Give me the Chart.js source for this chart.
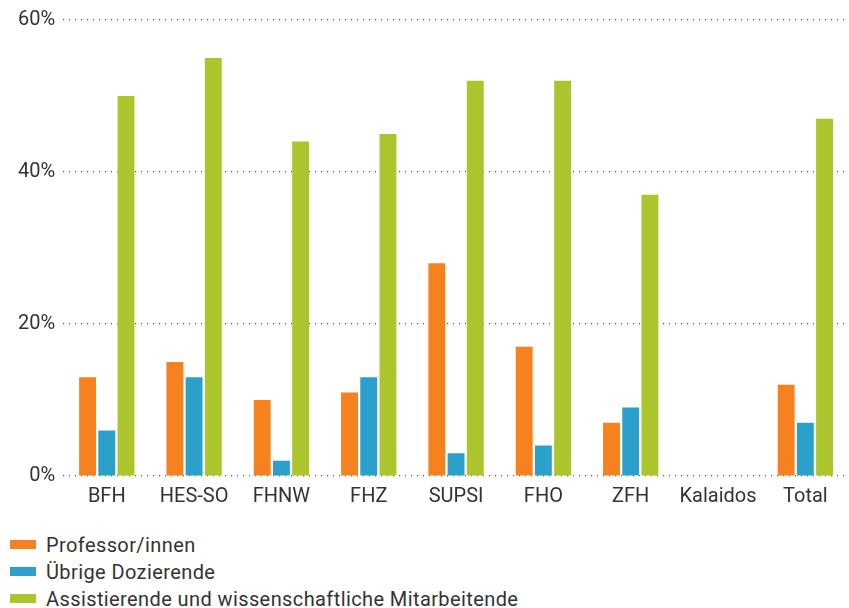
<!DOCTYPE html>
<html>
<head>
<meta charset="utf-8">
<script src="https://cdn.jsdelivr.net/npm/chart.js@4/dist/chart.umd.min.js"></script>
<style>
  html, body { margin: 0; padding: 0; background: #fff; }
  body { width: 849px; height: 608px; overflow: hidden; font-family: Roboto, sans-serif; }
  #wrap { position: relative; width: 849px; height: 518px; }
  #legend { margin: 13px 0 0 10px; }
  .item { display: flex; align-items: center; height: 27px; font-size: 20px; color: #333; letter-spacing: 0.4px; }
  .swatch { width: 26px; height: 9px; margin-right: 10px; }
</style>
</head>
<body>
<div id="wrap"><canvas id="chart"></canvas></div>
<div id="legend"></div>
<script>
const categories = ['BFH', 'HES-SO', 'FHNW', 'FHZ', 'SUPSI', 'FHO', 'ZFH', 'Kalaidos', 'Total'];
const professoren = [13, 15, 10, 11, 28, 17, 7, null, 12];
const dozierende = [6, 13, 2, 13, 3, 4, 9, null, 7];
const assistierende = [50, 55, 44, 45, 52, 52, 37, null, 47];
const seriesLabels = ['Professor/innen', 'Übrige Dozierende', 'Assistierende und wissenschaftliche Mitarbeitende'];
const colors = ['#f5821f', '#2aa0cb', '#adc52d'];

const ctx = document.getElementById('chart').getContext('2d');
const chart = new Chart(ctx, {
    type: 'bar',
    data: {
        labels: categories,
        datasets: [professoren, dozierende, assistierende].map((d, i) => ({
            label: seriesLabels[i],
            data: d,
            backgroundColor: colors[i],
            borderWidth: 0,
            barPercentage: 0.88,
            categoryPercentage: 0.66
        }))
    },
    options: {
        responsive: true,
        maintainAspectRatio: false,
        animation: false,
        layout: { padding: { left: 10, top: 8, right: 0, bottom: 0 } },
        plugins: {
            legend: { display: false },
            tooltip: { enabled: false }
        },
        scales: {
            x: {
                grid: { display: false, drawTicks: false },
                border: { display: false },
                ticks: { color: '#333', font: { family: 'Roboto', size: 20 }, padding: 9 }
            },
            y: {
                min: 0,
                max: 60,
                ticks: {
                    stepSize: 20,
                    color: '#333',
                    font: { family: 'Roboto', size: 20 },
                    padding: 8,
                    callback: v => v + '%'
                },
                grid: { color: '#555', lineWidth: 1.2, drawTicks: false },
                border: { display: false, dash: [1, 5] }
            }
        }
    }
});

// legend below the chart, one item per line
const legend = document.getElementById('legend');
chart.data.datasets.forEach(ds => {
    const row = document.createElement('div');
    row.className = 'item';
    const sw = document.createElement('span');
    sw.className = 'swatch';
    sw.style.background = ds.backgroundColor;
    row.appendChild(sw);
    row.appendChild(document.createTextNode(ds.label));
    legend.appendChild(row);
});
</script>
</body>
</html>
